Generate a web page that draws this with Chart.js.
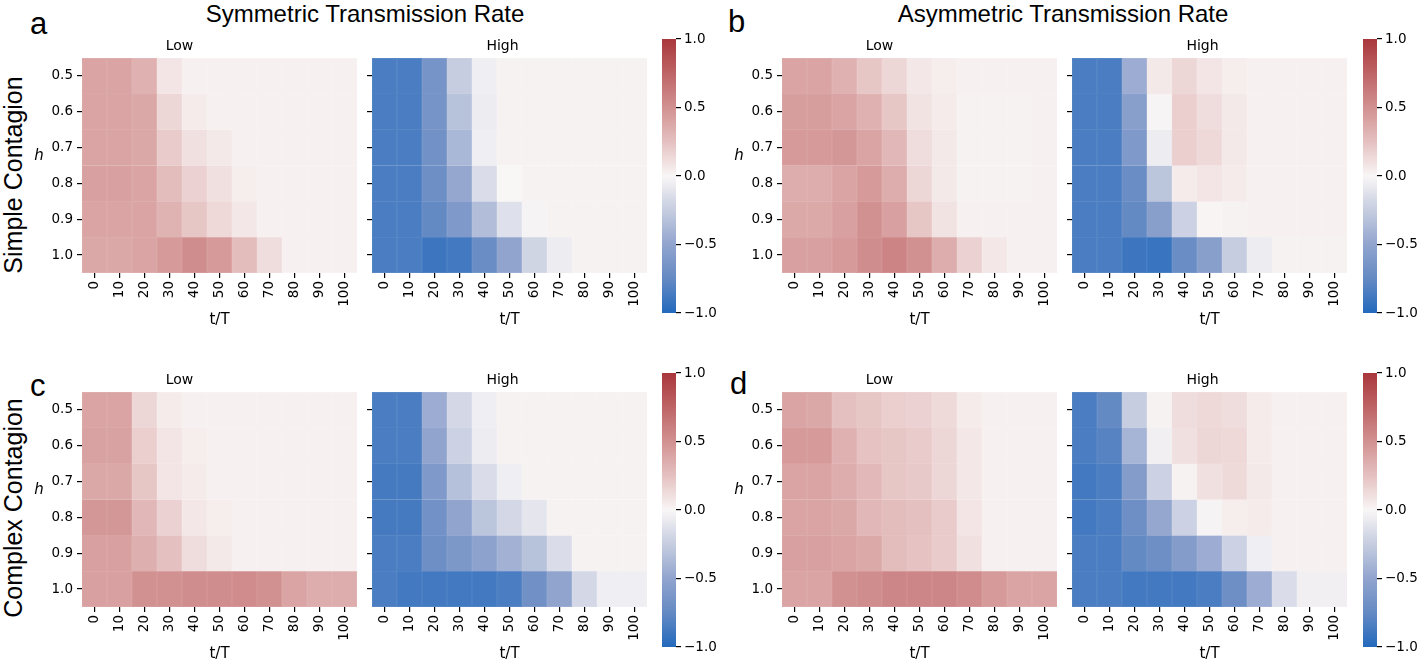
<!DOCTYPE html>
<html>
<head>
<meta charset="utf-8">
<script src="https://cdn.jsdelivr.net/npm/chart.js@4.4.0/dist/chart.umd.min.js"></script>
<style>
  body { margin: 0; background: #fff; width: 1424px; height: 660px; position: relative; overflow: hidden; }
  canvas { position: absolute; }
  .txt { position: absolute; font-family: "Liberation Sans", Arial, sans-serif; color: #000; white-space: nowrap; line-height: 1; }
  .head { font-size: 24px; transform: translateX(-50%); }
  .letter { font-size: 31px; }
  .side { font-size: 25px; transform: translate(-50%, -50%) rotate(-90deg); }
</style>
</head>
<body>
<div class="txt head" style="left:365px; top:2px;">Symmetric Transmission Rate</div>
<div class="txt head" style="left:1063px; top:2px;">Asymmetric Transmission Rate</div>
<div class="txt letter" style="left:30px; top:8px;">a</div>
<div class="txt letter" style="left:728px; top:6px;">b</div>
<div class="txt letter" style="left:30px; top:370px;">c</div>
<div class="txt letter" style="left:730px; top:368px;">d</div>
<div class="txt side" style="left:13px; top:175px;">Simple Contagion</div>
<div class="txt side" style="left:13px; top:508px;">Complex Contagion</div>

<canvas id="aLow"></canvas>
<canvas id="aHigh"></canvas>
<canvas id="bLow"></canvas>
<canvas id="bHigh"></canvas>
<canvas id="cLow"></canvas>
<canvas id="cHigh"></canvas>
<canvas id="dLow"></canvas>
<canvas id="dHigh"></canvas>
<canvas id="aBar"></canvas>
<canvas id="bBar"></canvas>
<canvas id="cBar"></canvas>
<canvas id="dBar"></canvas>

<script>
// axes
const tLabels = ['0', '10', '20', '30', '40', '50', '60', '70', '80', '90', '100'];
const hLabels = ['0.5', '0.6', '0.7', '0.8', '0.9', '1.0'];
const cbTicks = [-1, -0.5, 0, 0.5, 1];

// a: symmetric rate, simple contagion (rows h = 0.5 .. 1.0)
const symSimpleLow = [
  [0.40, 0.40, 0.33, 0.08, 0.03, 0.03, 0.03, 0.03, 0.03, 0.03, 0.03],
  [0.40, 0.40, 0.38, 0.15, 0.05, 0.03, 0.03, 0.03, 0.03, 0.03, 0.03],
  [0.40, 0.40, 0.38, 0.20, 0.10, 0.06, 0.03, 0.03, 0.03, 0.03, 0.03],
  [0.42, 0.42, 0.40, 0.27, 0.17, 0.10, 0.04, 0.03, 0.03, 0.03, 0.03],
  [0.40, 0.40, 0.40, 0.32, 0.22, 0.14, 0.07, 0.03, 0.03, 0.03, 0.03],
  [0.38, 0.38, 0.40, 0.45, 0.52, 0.45, 0.27, 0.12, 0.03, 0.03, 0.03]
];
const symSimpleHigh = [
  [-0.85, -0.85, -0.65, -0.25, -0.05, 0.02, 0.02, 0.02, 0.02, 0.02, 0.02],
  [-0.85, -0.85, -0.65, -0.32, -0.06, 0.02, 0.02, 0.02, 0.02, 0.02, 0.02],
  [-0.85, -0.85, -0.67, -0.38, -0.05, 0.02, 0.02, 0.02, 0.02, 0.02, 0.02],
  [-0.85, -0.85, -0.70, -0.48, -0.15, 0.00, 0.02, 0.02, 0.02, 0.02, 0.02],
  [-0.85, -0.85, -0.75, -0.60, -0.35, -0.13, -0.02, 0.02, 0.02, 0.02, 0.02],
  [-0.85, -0.85, -0.90, -0.88, -0.72, -0.50, -0.20, -0.06, 0.02, 0.02, 0.02]
];

// b: asymmetric rate, simple contagion
const asymSimpleLow = [
  [0.40, 0.40, 0.33, 0.22, 0.15, 0.07, 0.04, 0.03, 0.03, 0.03, 0.03],
  [0.43, 0.43, 0.40, 0.33, 0.22, 0.09, 0.05, 0.02, 0.02, 0.02, 0.03],
  [0.45, 0.45, 0.47, 0.40, 0.30, 0.12, 0.06, 0.02, 0.02, 0.02, 0.03],
  [0.35, 0.35, 0.40, 0.45, 0.35, 0.15, 0.06, 0.02, 0.02, 0.02, 0.03],
  [0.37, 0.37, 0.42, 0.50, 0.42, 0.22, 0.09, 0.03, 0.03, 0.03, 0.03],
  [0.42, 0.42, 0.45, 0.52, 0.57, 0.50, 0.35, 0.17, 0.07, 0.03, 0.03]
];
const asymSimpleHigh = [
  [-0.85, -0.85, -0.45, 0.06, 0.15, 0.08, 0.04, 0.03, 0.03, 0.03, 0.03],
  [-0.85, -0.85, -0.55, -0.01, 0.18, 0.12, 0.06, 0.03, 0.03, 0.03, 0.03],
  [-0.85, -0.85, -0.60, -0.06, 0.18, 0.14, 0.06, 0.03, 0.03, 0.03, 0.03],
  [-0.85, -0.85, -0.72, -0.30, 0.05, 0.08, 0.05, 0.03, 0.03, 0.03, 0.03],
  [-0.85, -0.85, -0.75, -0.55, -0.22, 0.01, 0.02, 0.03, 0.03, 0.03, 0.03],
  [-0.85, -0.85, -0.90, -0.92, -0.72, -0.55, -0.25, -0.06, 0.02, 0.02, 0.02]
];

// c: symmetric rate, complex contagion
const symComplexLow = [
  [0.40, 0.40, 0.15, 0.05, 0.03, 0.03, 0.03, 0.03, 0.03, 0.03, 0.03],
  [0.41, 0.41, 0.18, 0.08, 0.04, 0.03, 0.03, 0.03, 0.03, 0.03, 0.03],
  [0.38, 0.38, 0.22, 0.08, 0.05, 0.03, 0.03, 0.03, 0.03, 0.03, 0.03],
  [0.47, 0.47, 0.30, 0.17, 0.07, 0.04, 0.03, 0.03, 0.03, 0.03, 0.03],
  [0.42, 0.42, 0.34, 0.25, 0.12, 0.06, 0.03, 0.03, 0.03, 0.03, 0.03],
  [0.42, 0.42, 0.50, 0.50, 0.52, 0.52, 0.53, 0.50, 0.40, 0.35, 0.35]
];
const symComplexHigh = [
  [-0.85, -0.85, -0.45, -0.18, -0.05, 0.02, 0.02, 0.02, 0.02, 0.02, 0.02],
  [-0.85, -0.85, -0.50, -0.22, -0.06, 0.02, 0.02, 0.02, 0.02, 0.02, 0.02],
  [-0.87, -0.87, -0.60, -0.33, -0.15, -0.05, 0.02, 0.02, 0.02, 0.02, 0.02],
  [-0.87, -0.87, -0.67, -0.50, -0.30, -0.18, -0.10, 0.02, 0.02, 0.02, 0.02],
  [-0.85, -0.85, -0.70, -0.62, -0.52, -0.42, -0.32, -0.15, 0.02, 0.02, 0.02],
  [-0.85, -0.88, -0.88, -0.88, -0.88, -0.85, -0.68, -0.50, -0.18, -0.05, -0.05]
];

// d: asymmetric rate, complex contagion
const asymComplexLow = [
  [0.40, 0.38, 0.25, 0.22, 0.18, 0.17, 0.13, 0.05, 0.03, 0.03, 0.03],
  [0.45, 0.45, 0.33, 0.24, 0.22, 0.20, 0.15, 0.07, 0.03, 0.03, 0.03],
  [0.40, 0.40, 0.35, 0.29, 0.22, 0.21, 0.15, 0.07, 0.03, 0.03, 0.03],
  [0.40, 0.40, 0.38, 0.30, 0.27, 0.25, 0.20, 0.08, 0.03, 0.03, 0.03],
  [0.42, 0.42, 0.40, 0.37, 0.27, 0.24, 0.20, 0.10, 0.03, 0.03, 0.03],
  [0.40, 0.40, 0.50, 0.52, 0.56, 0.56, 0.56, 0.53, 0.45, 0.40, 0.40]
];
const asymComplexHigh = [
  [-0.85, -0.75, -0.25, 0.02, 0.12, 0.14, 0.12, 0.05, 0.03, 0.03, 0.03],
  [-0.85, -0.80, -0.40, -0.04, 0.10, 0.15, 0.14, 0.05, 0.03, 0.03, 0.03],
  [-0.88, -0.85, -0.58, -0.22, 0.02, 0.10, 0.13, 0.06, 0.03, 0.03, 0.03],
  [-0.88, -0.85, -0.70, -0.48, -0.22, -0.02, 0.04, 0.05, 0.03, 0.03, 0.03],
  [-0.85, -0.85, -0.75, -0.70, -0.58, -0.45, -0.22, -0.05, 0.03, 0.03, 0.03],
  [-0.85, -0.85, -0.88, -0.88, -0.88, -0.85, -0.70, -0.45, -0.15, -0.04, -0.04]
];

// vlag-like diverging colormap, -1 .. 1
const cmapStops = [
  [-1.00, [35, 105, 189]],
  [-0.75, [100, 138, 195]],
  [-0.50, [145, 164, 206]],
  [-0.25, [198, 205, 224]],
  [0.00, [249, 246, 246]],
  [0.25, [229, 192, 192]],
  [0.50, [210, 145, 145]],
  [0.75, [190, 100, 102]],
  [1.00, [169, 55, 59]]
];
function vlagRgb(v) {
  v = Math.max(-1, Math.min(1, v));
  for (let i = 1; i < cmapStops.length; i++) {
    const [v1, c1] = cmapStops[i];
    const [v0, c0] = cmapStops[i - 1];
    if (v <= v1) {
      const f = (v - v0) / (v1 - v0);
      return c0.map((x, k) => Math.round(x + (c1[k] - x) * f));
    }
  }
}
function vlag(v) {
  const c = vlagRgb(v);
  return `rgb(${c[0]},${c[1]},${c[2]})`;
}
// slightly lighter edge, like the thin seaborn cell lines
function vlagEdge(v) {
  const c = vlagRgb(v).map(x => Math.round(x + (255 - x) * 0.15));
  return `rgb(${c[0]},${c[1]},${c[2]})`;
}

const tickFont = { family: 'DejaVu Sans', size: 13.5 };
const HEAT_W = 275, Y_AXIS_LOW = 80, Y_AXIS_HIGH = 14, X_AXIS_H = 56, TITLE_H = 20;

// draws the upright italic "h" next to the y axis
const hLabel = {
  id: 'hLabel',
  afterDraw(chart, args, opts) {
    if (!opts.show) return;
    const { ctx, chartArea } = chart;
    ctx.save();
    ctx.font = 'italic 15px "DejaVu Sans"';
    ctx.fillStyle = '#000';
    ctx.textAlign = 'center';
    ctx.textBaseline = 'middle';
    ctx.fillText('h', opts.x, (chartArea.top + chartArea.bottom) / 2 - 9);
    ctx.restore();
  }
};

function place(id, left, top, w, h) {
  const c = document.getElementById(id);
  c.width = w; c.height = h;
  c.style.left = left + 'px'; c.style.top = top + 'px';
  c.style.width = w + 'px'; c.style.height = h + 'px';
  return c;
}

function heatmap(id, values, title, heatLeft, heatTop, withLabels) {
  const yw = withLabels ? Y_AXIS_LOW : Y_AXIS_HIGH;
  // same room on both sides so the title centres over the cells
  const c = place(id, heatLeft - yw, heatTop - TITLE_H, yw + HEAT_W + yw, TITLE_H + 215 + X_AXIS_H);
  const datasets = values.map(row => ({
    data: row.map(() => 1),
    backgroundColor: row.map(vlag),
    borderColor: row.map(vlagEdge),
    borderWidth: 0.5,
    borderSkipped: false,
    barPercentage: 1,
    categoryPercentage: 1,
    stack: 'cells'
  }));
  new Chart(c, {
    type: 'bar',
    data: { labels: tLabels, datasets },
    plugins: [hLabel],
    options: {
      responsive: false,
      animation: false,
      layout: { padding: { top: 0, right: yw, bottom: 0, left: 0 } },
      plugins: {
        legend: { display: false },
        tooltip: { enabled: false },
        title: {
          display: true, text: title, color: '#000',
          font: { family: 'DejaVu Sans', size: 14, weight: 'normal', lineHeight: 1.2 },
          padding: { top: 0, bottom: 3.2 }
        },
        hLabel: { show: withLabels, x: 37 }
      },
      scales: {
        x: {
          stacked: true,
          offset: true,
          border: { display: false },
          grid: { offset: false, drawOnChartArea: false, drawTicks: true, tickLength: 5, color: '#000', lineWidth: 1.2 },
          ticks: { font: tickFont, color: '#000', minRotation: 90, maxRotation: 90, autoSkip: false, padding: 3 },
          title: { display: true, text: 't/T', color: '#000', font: { family: 'DejaVu Sans', size: 15 }, padding: 0 },
          afterFit: s => { s.height = X_AXIS_H; }
        },
        y: {
          stacked: true,
          min: 0, max: hLabels.length,
          reverse: true,
          border: { display: false },
          grid: { drawOnChartArea: false, drawTicks: true, tickLength: 5, color: '#000', lineWidth: 1.2 },
          afterBuildTicks: s => { s.ticks = hLabels.map((_, i) => ({ value: i + 0.5 })); },
          ticks: { display: withLabels, font: tickFont, color: '#000', padding: 4, callback: (v, i) => hLabels[i] },
          afterFit: s => { s.width = yw; }
        }
      }
    }
  });
}

function colorbar(id, left, top) {
  const c = place(id, left, top - 12, 64, 274 + 24);
  new Chart(c, {
    type: 'bar',
    data: {
      labels: [''],
      datasets: [{
        data: [[cbTicks[0], cbTicks[cbTicks.length - 1]]],
        barPercentage: 1,
        categoryPercentage: 1,
        borderSkipped: false,
        backgroundColor: ctx => {
          const area = ctx.chart.chartArea;
          if (!area) return null;
          const g = ctx.chart.ctx.createLinearGradient(0, area.bottom, 0, area.top);
          for (let k = 0; k <= 40; k++) g.addColorStop(k / 40, vlag(-1 + k / 20));
          return g;
        }
      }]
    },
    options: {
      responsive: false,
      animation: false,
      layout: { padding: { top: 12, bottom: 12, left: 0, right: 0 } },
      plugins: { legend: { display: false }, tooltip: { enabled: false } },
      scales: {
        x: { display: false, offset: true },
        y: {
          position: 'right',
          min: cbTicks[0], max: cbTicks[cbTicks.length - 1],
          border: { display: false },
          grid: { drawOnChartArea: false, drawTicks: true, tickLength: 5, color: '#000', lineWidth: 1.2 },
          afterBuildTicks: s => { s.ticks = cbTicks.map(v => ({ value: v })); },
          ticks: {
            font: { family: 'DejaVu Sans', size: 13.5 }, color: '#000', padding: 3,
            callback: v => (v < 0 ? '\u2212' : '') + Math.abs(v).toFixed(1)
          },
          afterFit: s => { s.width = 50; }
        }
      }
    }
  });
}

heatmap('aLow', symSimpleLow, 'Low', 82, 58, true);
heatmap('aHigh', symSimpleHigh, 'High', 372, 58, false);
heatmap('bLow', asymSimpleLow, 'Low', 782, 58, true);
heatmap('bHigh', asymSimpleHigh, 'High', 1072, 58, false);
heatmap('cLow', symComplexLow, 'Low', 82, 392, true);
heatmap('cHigh', symComplexHigh, 'High', 372, 392, false);
heatmap('dLow', asymComplexLow, 'Low', 782, 392, true);
heatmap('dHigh', asymComplexHigh, 'High', 1072, 392, false);
colorbar('aBar', 662, 39);
colorbar('bBar', 1363, 39);
colorbar('cBar', 662, 373);
colorbar('dBar', 1363, 373);
</script>
</body>
</html>
